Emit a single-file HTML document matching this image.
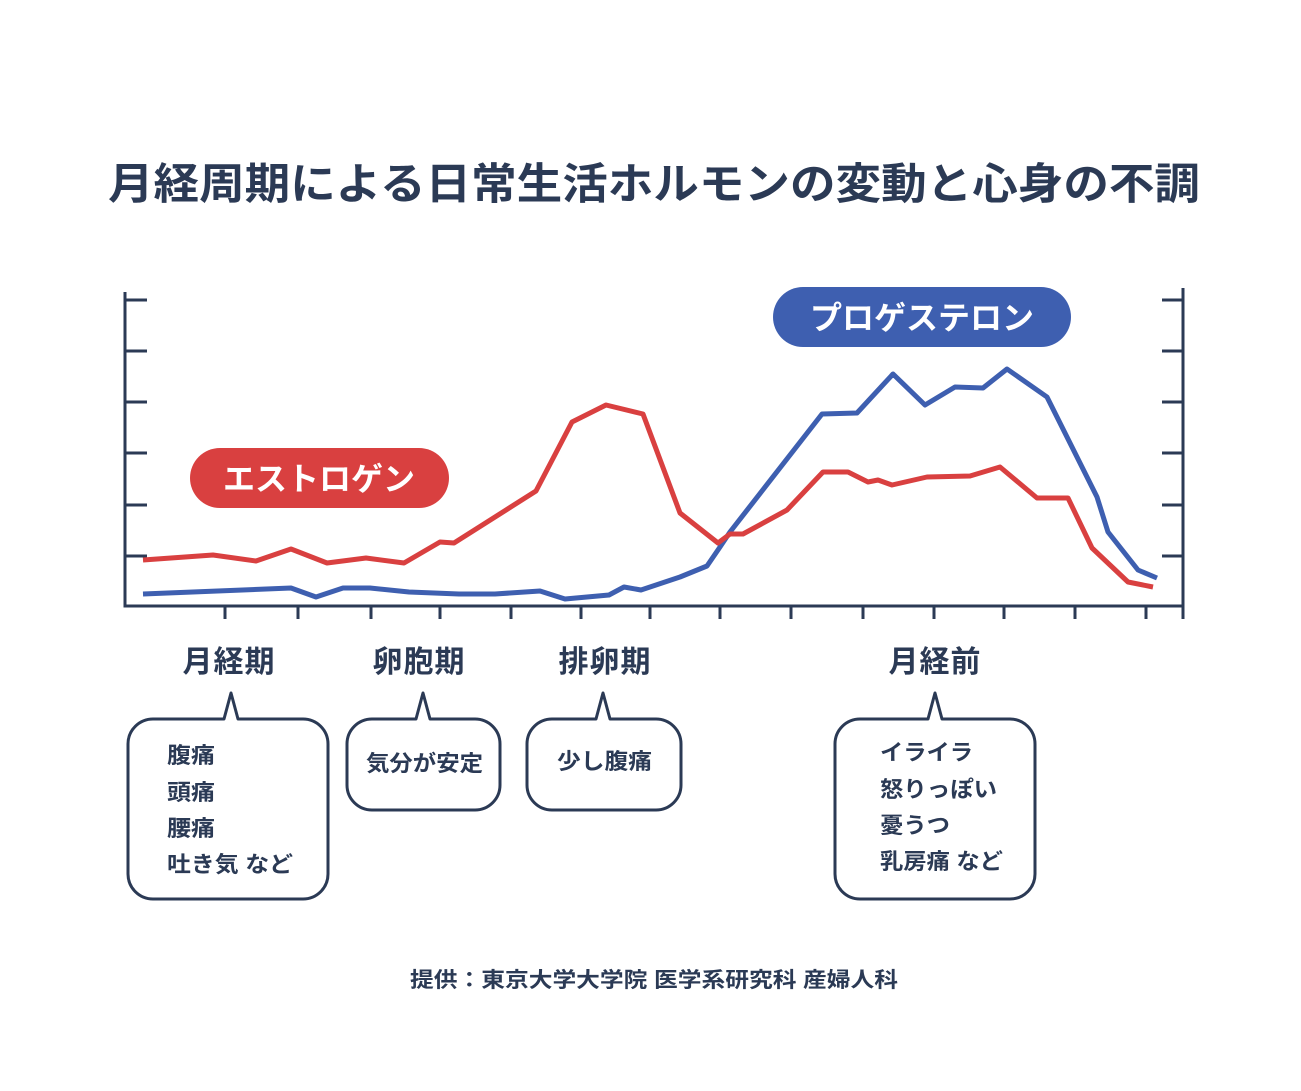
<!DOCTYPE html>
<html><head><meta charset="utf-8"><style>
html,body{margin:0;padding:0;background:#fff}
svg{display:block}
text{font-family:"Liberation Sans","Noto Sans CJK JP",sans-serif;font-weight:bold;fill:#2b3a55}
</style></head><body>
<svg width="1301" height="1091" viewBox="0 0 1301 1091" xmlns="http://www.w3.org/2000/svg">
<text x="108" y="199" font-size="43" textLength="1092" lengthAdjust="spacingAndGlyphs">月経周期による日常生活ホルモンの変動と心身の不調</text>
<g stroke="#2b3a55" stroke-width="3" fill="none">
<path d="M125 292V606H1183V288"/>
<path d="M125 300H147M125 351H147M125 402H147M125 453H147M125 505H147M125 556H147"/>
<path d="M1183 300H1162M1183 351H1162M1183 402H1162M1183 453H1162M1183 505H1162M1183 556H1162"/>
<path d="M225 606V619M298 606V619M371 606V619M440 606V619M511 606V619M581 606V619M650 606V619M720 606V619M791 606V619M863 606V619M934 606V619M1004 606V619M1075 606V619M1146 606V619M1183 606V619"/>
</g>
<polyline fill="none" stroke="#3e5fb0" stroke-width="5" stroke-linejoin="round" points="143,594 291,588 316,597 343,588 370,588 409,592 459,594 495,594 540,591 565,599 609,595 624,587 641,590 680,577 707,566 720,547 730,532 822,414 857,413 893,374 925,405 955,387 983,388 1007,369 1047,397 1097,497 1108,532 1138,570 1157,578"/>
<polyline fill="none" stroke="#d94040" stroke-width="5" stroke-linejoin="round" points="143,560 213,555 256,561 291,549 327,563 366,558 404,563 440,542 454,543 536,491 572,422 606,405 643,414 680,513 718,543 730,534 743,534 787,510 823,472 848,472 868,482 878,480 892,485 927,477 970,476 1000,467 1037,498 1068,498 1092,548 1128,582 1153,587"/>
<rect x="190" y="448" width="259" height="60" rx="30" fill="#d94040"/>
<text x="319" y="490" font-size="32" text-anchor="middle" style="fill:#fff">エストロゲン</text>
<rect x="773" y="287" width="298" height="60" rx="30" fill="#3e5fb0"/>
<text x="922" y="329" font-size="32" text-anchor="middle" style="fill:#fff">プロゲステロン</text>
<g font-size="30" text-anchor="middle" letter-spacing="1">
<text x="229" y="672">月経期</text>
<text x="419" y="672">卵胞期</text>
<text x="605" y="672">排卵期</text>
<text x="935" y="672">月経前</text>
</g>
<g fill="#fff" stroke="#2b3a55" stroke-width="3" stroke-linejoin="round">
<path d="M153 719H224L231 693L238 719H303A25 25 0 0 1 328 744V874A25 25 0 0 1 303 899H153A25 25 0 0 1 128 874V744A25 25 0 0 1 153 719Z"/>
<path d="M372 719H416L423 693L430 719H475A25 25 0 0 1 500 744V785A25 25 0 0 1 475 810H372A25 25 0 0 1 347 785V744A25 25 0 0 1 372 719Z"/>
<path d="M552 719H596L603 693L610 719H656A25 25 0 0 1 681 744V785A25 25 0 0 1 656 810H552A25 25 0 0 1 527 785V744A25 25 0 0 1 552 719Z"/>
<path d="M860 719H928L935 693L942 719H1010A25 25 0 0 1 1035 744V874A25 25 0 0 1 1010 899H860A25 25 0 0 1 835 874V744A25 25 0 0 1 860 719Z"/>
</g>
<g font-size="22">
<text x="167" y="763" textLength="48" lengthAdjust="spacingAndGlyphs">腹痛</text>
<text x="167" y="800" textLength="48" lengthAdjust="spacingAndGlyphs">頭痛</text>
<text x="167" y="836" textLength="48" lengthAdjust="spacingAndGlyphs">腰痛</text>
<text x="167" y="872" textLength="126" lengthAdjust="spacingAndGlyphs">吐き気 など</text>
<text x="366" y="771" textLength="117" lengthAdjust="spacingAndGlyphs">気分が安定</text>
<text x="557" y="769" textLength="95" lengthAdjust="spacingAndGlyphs">少し腹痛</text>
<text x="880" y="760" textLength="93" lengthAdjust="spacingAndGlyphs">イライラ</text>
<text x="880" y="797" textLength="117" lengthAdjust="spacingAndGlyphs">怒りっぽい</text>
<text x="880" y="833" textLength="70" lengthAdjust="spacingAndGlyphs">憂うつ</text>
<text x="880" y="869" textLength="123" lengthAdjust="spacingAndGlyphs">乳房痛 など</text>
</g>
<text x="410" y="987" font-size="21" textLength="488" lengthAdjust="spacingAndGlyphs">提供：東京大学大学院 医学系研究科 産婦人科</text>
</svg>
</body></html>
